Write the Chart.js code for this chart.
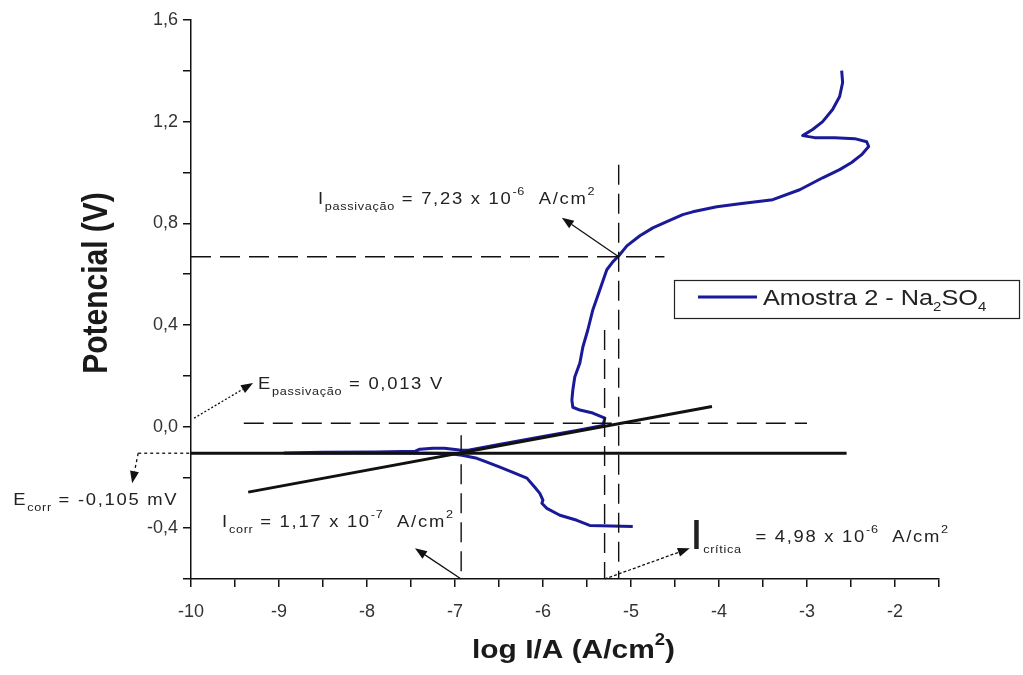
<!DOCTYPE html>
<html>
<head>
<meta charset="utf-8">
<script src="https://cdn.jsdelivr.net/npm/chart.js@4.4.1/dist/chart.umd.min.js"></script>
<style>
html,body{margin:0;padding:0;background:#fff;}
#wrap{width:1023px;height:675px;position:relative;}
</style>
</head>
<body>
<div id="wrap"><canvas id="c" width="1023" height="675"></canvas></div>
<script>
// ---------------- DATA ----------------
// Polarization curve "Amostra 2 - Na2SO4" (log I/A vs potential V), in acquisition order
const curveLogI = [
  -4.98, -5.47, -5.615, -5.808, -5.956, -6.013, -6.001, -6.036, -6.093, -6.183,
  -6.342, -6.490, -6.637, -6.751, -6.921, -7.07, -7.6, -8.3, -8.94, -8.5,
  -7.9, -7.45, -7.40, -7.25, -7.12, -6.95, -6.85, -6.5, -6.0, -5.6,
  -5.32, -5.297, -5.434, -5.581, -5.661, -5.672, -5.661, -5.639, -5.581, -5.547,
  -5.491, -5.434, -5.354, -5.275, -5.207, -5.138, -5.047, -4.899, -4.752, -4.593,
  -4.412, -4.298, -4.025, -3.764, -3.389, -3.083, -2.822, -2.629, -2.493, -2.379,
  -2.299, -2.322, -2.458, -2.686, -2.913, -3.049, -2.936, -2.822, -2.709, -2.629,
  -2.595, -2.606
];
const curvePotential = [
  -0.393, -0.389, -0.369, -0.349, -0.322, -0.302, -0.290, -0.263, -0.239, -0.203,
  -0.180, -0.160, -0.140, -0.125, -0.113, -0.106, -0.104, -0.104, -0.104, -0.101,
  -0.100, -0.097, -0.089, -0.085, -0.085, -0.092, -0.093, -0.071, -0.039, -0.014,
  0.004, 0.033, 0.053, 0.065, 0.076, 0.104, 0.144, 0.195, 0.250, 0.313,
  0.380, 0.459, 0.538, 0.617, 0.648, 0.672, 0.711, 0.751, 0.782, 0.806,
  0.834, 0.845, 0.865, 0.877, 0.893, 0.932, 0.979, 1.011, 1.039, 1.070,
  1.102, 1.121, 1.133, 1.137, 1.137, 1.145, 1.169, 1.200, 1.248, 1.299,
  1.354, 1.401
];
// Tafel extrapolation line
const tafelLogI = [-9.35, -4.08];
const tafelPotential = [-0.258, 0.079];
// Characteristic values
const E_CORR = -0.105;          // V
const E_PASS = 0.013;           // V
const E_AT_I_PASS = 0.668;      // V
const LOG_I_CORR = -6.93;       // log(1,17e-7)
const LOG_I_CRIT = -5.30;       // log(4,98e-6)
const LOG_I_PASS = -5.14;       // log(7,23e-6)
// Extents of the guide lines
const eCorrLineLogI = [-10, -2.55];
const eCorrLeaderLogI = [-10.60, -10];
const ePassLineLogI = [-9.4, -3.0];
const eIPassLineLogI = [-10, -4.62];
const iPassLinePotential = [1.03, -0.6];
const iCritLinePotential = [0.38, -0.6];
const iCorrLinePotential = [-0.034, -0.6];
// Tick labels
const xTickLabels = ['-10','-9','-8','-7','-6','-5','-4','-3','-2'];
const yTickLabels = ['-0,4','0,0','0,4','0,8','1,2','1,6'];
// Texts
const seriesName = [{t:'Amostra 2 - Na',k:'n'},{t:'2',k:'sub'},{t:'SO',k:'n'},{t:'4',k:'sub'}];
const xTitleParts = [{t:'log I/A (A/cm',k:'n'},{t:'2',k:'sup'},{t:')',k:'n'}];
const yTitleText = 'Potencial (V)';
const annotations = [
  {x:-8.557, y:0.877, parts:[{t:'I',k:'n'},{t:'passivação',k:'sub'},{t:' = 7,23 x 10',k:'n'},{t:'-6',k:'sup'},{t:'  A/cm',k:'n'},{t:'2',k:'sup'}]},
  {x:-9.238, y:0.147, parts:[{t:'E',k:'n'},{t:'passivação',k:'sub'},{t:' = 0,013 V',k:'n'}]},
  {x:-12.02, y:-0.310, parts:[{t:'E',k:'n'},{t:'corr',k:'sub'},{t:' = -0,105 mV',k:'n'}]},
  {x:-9.647, y:-0.397, parts:[{t:'I',k:'n'},{t:'corr',k:'sub'},{t:' = 1,17 x 10',k:'n'},{t:'-7',k:'sup'},{t:'  A/cm',k:'n'},{t:'2',k:'sup'}]},
  {x:-4.332, y:-0.456, parts:[{t:'I',k:'big'},{t:'crítica',k:'sub2'},{t:'  = 4,98 x 10',k:'n'},{t:'-6',k:'sup'},{t:'  A/cm',k:'n'},{t:'2',k:'sup'}]}
];
// Arrows: [x0, y0, x1 (tip), y1 (tip), dash]
const arrows = [
  [LOG_I_PASS, E_AT_I_PASS, -5.786, 0.822, []],
  [-9.965, 0.033, -9.295, 0.171, [2,2]],
  [-10.60, E_CORR, -10.669, -0.223, [3,3]],
  [LOG_I_CORR, -0.6, -7.455, -0.479, []],
  [LOG_I_CRIT, -0.6, -4.332, -0.479, [3,2]]
];

// ---------------- HELPERS ----------------
const FAMILY = '"Liberation Sans", Arial, sans-serif';
const pts = (xs, ys) => xs.map((x, i) => ({x, y: ys[i]}));
const hLine = (xs, y) => xs.map(x => ({x, y}));
const vLine = (x, ys) => ys.map(y => ({x, y}));

function drawRich(ctx, x, y, parts, o) {
  ctx.save();
  ctx.translate(x, y);
  ctx.scale(o.sx || 1, 1);
  ctx.textAlign = 'left';
  ctx.textBaseline = 'alphabetic';
  ctx.fillStyle = o.color || '#222';
  let cx = 0;
  for (const p of parts) {
    let size = o.size, dy = 0, ls = o.ls || 0;
    if (p.k === 'sub') { size = o.small; dy = o.subDy; ls = o.lsSmall || 0; }
    if (p.k === 'sub2') { size = o.small; dy = o.subDy + 5; ls = o.lsSmall || 0; }
    if (p.k === 'sup') { size = o.small; dy = o.supDy; ls = o.lsSmall || 0; }
    if (p.k === 'big') { size = o.big || o.size; dy = 7; ls = 0; }
    ctx.font = `${o.weight || 'normal'} ${size}px ${FAMILY}`;
    ctx.letterSpacing = ls + 'px';
    ctx.fillText(p.t, cx, dy);
    cx += ctx.measureText(p.t).width;
  }
  ctx.restore();
}

function arrow(ctx, x0, y0, x1, y1, dash) {
  ctx.save();
  ctx.strokeStyle = '#111';
  ctx.fillStyle = '#111';
  ctx.lineWidth = 1.3;
  ctx.setLineDash(dash);
  const a = Math.atan2(y1 - y0, x1 - x0);
  const L = 12, W = 4.5;
  const bx = x1 - L * Math.cos(a), by = y1 - L * Math.sin(a);
  ctx.beginPath(); ctx.moveTo(x0, y0); ctx.lineTo(bx, by); ctx.stroke();
  ctx.setLineDash([]);
  ctx.beginPath();
  ctx.moveTo(x1, y1);
  ctx.lineTo(bx + W * Math.sin(a), by - W * Math.cos(a));
  ctx.lineTo(bx - W * Math.sin(a), by + W * Math.cos(a));
  ctx.closePath(); ctx.fill();
  ctx.restore();
}

const overlay = {
  id: 'overlay',
  afterDraw(chart) {
    const ctx = chart.ctx, xs = chart.scales.x, ys = chart.scales.y;
    const px = v => xs.getPixelForValue(v), py = v => ys.getPixelForValue(v);
    // arrows
    for (const a of arrows) arrow(ctx, px(a[0]), py(a[1]), px(a[2]), py(a[3]), a[4]);
    // annotations
    for (const an of annotations) {
      drawRich(ctx, px(an.x), py(an.y), an.parts,
        {size: 16, small: 11, big: 42, subDy: 6, supDy: -9, sx: 1.15, ls: 1.5, lsSmall: 0.6, color: '#222'});
    }
    // legend
    ctx.save();
    ctx.strokeStyle = '#222'; ctx.lineWidth = 1.2;
    ctx.strokeRect(674.5, 280.5, 345, 38);
    ctx.strokeStyle = '#1a1a99'; ctx.lineWidth = 3;
    ctx.beginPath(); ctx.moveTo(698, 297); ctx.lineTo(757, 297); ctx.stroke();
    ctx.restore();
    drawRich(ctx, 763, 305, seriesName, {size: 22, small: 13, subDy: 6, supDy: -9, sx: 1.15, color: '#222'});
    // axis titles
    drawRich(ctx, 472, 658, xTitleParts, {size: 26, small: 16, subDy: 6, supDy: -13, sx: 1.15, weight: 'bold', color: '#1a1a1a'});
    ctx.save();
    ctx.translate(97, 283);
    ctx.rotate(-Math.PI / 2);
    ctx.scale(1, 1.15);
    ctx.font = `bold 30px ${FAMILY}`;
    ctx.fillStyle = '#1a1a1a';
    ctx.textAlign = 'center';
    ctx.textBaseline = 'middle';
    ctx.fillText(yTitleText, 0, 0);
    ctx.restore();
  }
};

const findLabel = (labels, v) => {
  const s = labels.find(l => Math.abs(parseFloat(l.replace(',', '.')) - v) < 1e-6);
  return s === undefined ? '' : s;
};

const dashed = (data) => ({data, showLine: true, borderColor: '#111', borderWidth: 1.4, borderDash: [20, 9], pointRadius: 0, order: 2, clip: false});

new Chart(document.getElementById('c'), {
  type: 'scatter',
  data: {
    datasets: [
      {label: 'Amostra 2 - Na2SO4', data: pts(curveLogI, curvePotential), showLine: true,
       borderColor: '#1a1a99', borderWidth: 3, pointRadius: 0, order: 5, borderJoinStyle: 'round'},
      {label: 'Tafel', data: pts(tafelLogI, tafelPotential), showLine: true,
       borderColor: '#111', borderWidth: 3, pointRadius: 0, order: 1},
      {label: 'Ecorr', data: hLine(eCorrLineLogI, E_CORR), showLine: true,
       borderColor: '#111', borderWidth: 3, pointRadius: 0, order: 1},
      {label: 'Ecorr leader', data: hLine(eCorrLeaderLogI, E_CORR), showLine: true,
       borderColor: '#111', borderWidth: 1.3, borderDash: [3, 3], pointRadius: 0, order: 1, clip: false},
      dashed(hLine(ePassLineLogI, E_PASS)),
      dashed(hLine(eIPassLineLogI, E_AT_I_PASS)),
      dashed(vLine(LOG_I_PASS, iPassLinePotential)),
      dashed(vLine(LOG_I_CRIT, iCritLinePotential)),
      dashed(vLine(LOG_I_CORR, iCorrLinePotential))
    ]
  },
  options: {
    responsive: false,
    animation: false,
    devicePixelRatio: 1,
    layout: {padding: {left: 0, right: 84, top: 20, bottom: 0}},
    plugins: {legend: {display: false}, tooltip: {enabled: false}},
    scales: {
      x: {
        type: 'linear', min: -10, max: -1.5,
        afterFit: s => { s.height = 96; },
        border: {display: true, color: '#111', width: 1.5},
        grid: {drawOnChartArea: false, drawTicks: true, tickLength: 8, color: '#111', lineWidth: 1.5},
        ticks: {stepSize: 0.5, autoSkip: false, maxRotation: 0, padding: 14, color: '#333',
          font: {family: FAMILY, size: 18},
          callback: v => findLabel(xTickLabels, v)}
      },
      y: {
        type: 'linear', min: -0.6, max: 1.6,
        afterFit: s => { s.width = 191; },
        border: {display: true, color: '#111', width: 1.5},
        grid: {drawOnChartArea: false, drawTicks: true, tickLength: 8, color: '#111', lineWidth: 1.5},
        ticks: {stepSize: 0.2, autoSkip: false, padding: 5, color: '#333',
          font: {family: FAMILY, size: 18},
          callback: v => findLabel(yTickLabels, v)}
      }
    }
  },
  plugins: [overlay]
});
</script>
</body>
</html>
